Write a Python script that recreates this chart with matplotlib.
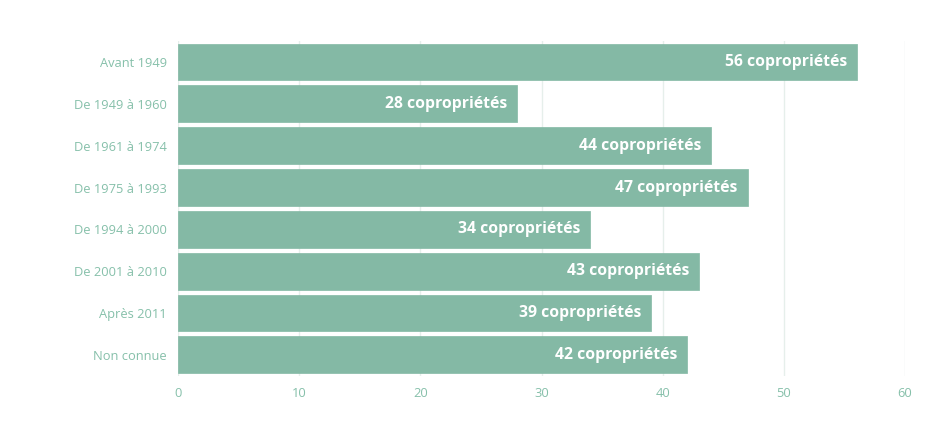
import matplotlib; matplotlib.use("Agg")
import matplotlib.pyplot as plt

periods = ["Avant 1949", "De 1949 à 1960", "De 1961 à 1974", "De 1975 à 1993",
           "De 1994 à 2000", "De 2001 à 2010", "Après 2011", "Non connue"]
counts = [56, 28, 44, 47, 34, 43, 39, 42]
xticks = [0, 10, 20, 30, 40, 50, 60]

BAR = "#84b9a5"; TICK = "#86c0aa"; GRID = "#e6efeb"

fig = plt.figure(figsize=(9.35, 4.37), dpi=100)
ax = fig.add_axes([0.1904, 0.14, 0.968 - 0.1904, 0.906 - 0.14])
ypos = list(range(len(periods)))
ax.barh(ypos, counts, height=0.88, color=BAR, edgecolor=BAR, linewidth=0.5,
        joinstyle="round", zorder=3)
for y, v in zip(ypos, counts):
    ax.text(v - 0.8, y, f"{v} copropriétés", ha="right", va="center",
            color="white", fontsize=11.3, fontweight="bold",
            family=["Open Sans", "DejaVu Sans"], zorder=4)
ax.set_xlim(0, 60)
ax.set_ylim(len(periods) - 0.5, -0.5)
ax.set_yticks(ypos, periods)
ax.set_xticks(xticks, [str(t) for t in xticks])
ax.grid(axis="x", color=GRID, linewidth=1, zorder=0)
for s in ax.spines.values(): s.set_visible(False)
ax.tick_params(length=0, colors=TICK, labelsize=9.3, pad=8)
for lab in ax.get_xticklabels() + ax.get_yticklabels():
    lab.set_family(["Open Sans", "DejaVu Sans"])
fig.savefig("out.png", dpi=100, facecolor="white")
